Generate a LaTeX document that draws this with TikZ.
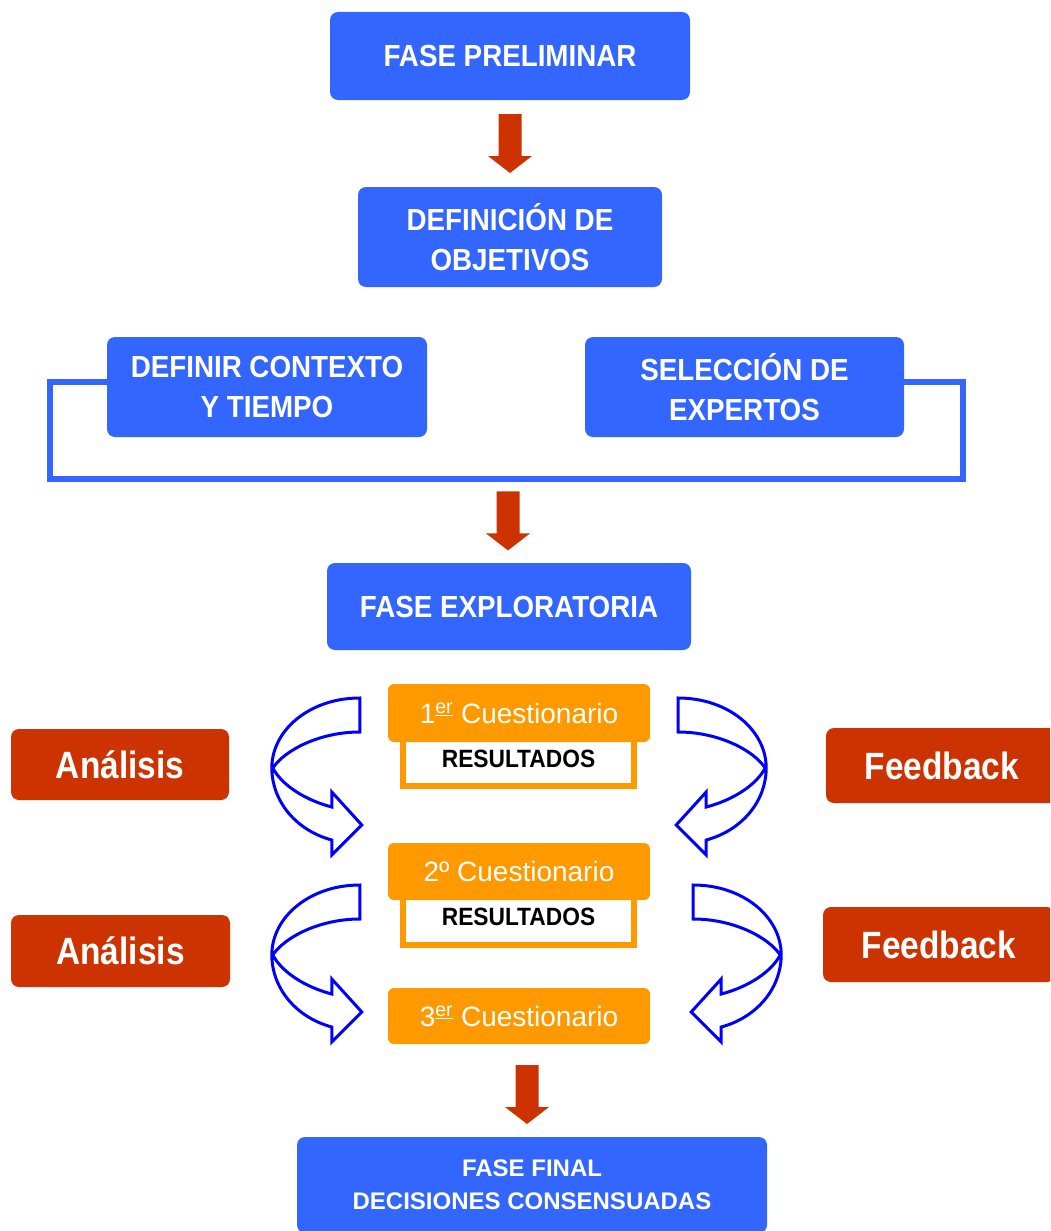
\documentclass[tikz,border=0pt]{standalone}
\usepackage{fontspec}
\setmainfont{Liberation Sans}
\newfontfamily\narrowsans[FakeStretch=0.91]{Liberation Sans}
\newfontfamily\tightsans[FakeStretch=0.88]{Liberation Sans}
\usetikzlibrary{calc}
\definecolor{boxblue}{HTML}{3366FF}
\definecolor{boxred}{HTML}{CC3300}
\definecolor{boxorange}{HTML}{FF9900}
\definecolor{curlblue}{HTML}{0000FF}
\newcommand{\ordsup}[1]{\textsuperscript{\underline{#1}}}

\begin{document}
\begin{tikzpicture}[x=1pt,y=-1pt,
  bluebox/.style={fill=boxblue, rounded corners=8pt, text=white, align=center,
    inner sep=0pt, font=\narrowsans\bfseries\fontsize{30.5}{40}\selectfont},
  finalbox/.style={bluebox, font=\bfseries\fontsize{24}{33}\selectfont},
  redbox/.style={fill=boxred, rounded corners=8pt, text=white, inner sep=0pt,
    text height=27pt, text depth=0pt, font=\tightsans\bfseries\fontsize{38}{44}\selectfont},
  quest/.style={fill=boxorange, rounded corners=6pt, text=white, inner sep=0pt,
    minimum width=262pt, text height=20pt, text depth=0pt,
    font=\fontsize{28}{32}\selectfont},
  result/.style={draw=boxorange, line width=6pt, fill=white, inner sep=0pt,
    minimum width=231pt, text height=18pt, text depth=0pt,
    font=\narrowsans\bfseries\fontsize{25}{28}\selectfont},
  bracketline/.style={draw=boxblue, line width=6pt, line join=miter},
  curlline/.style={draw=curlblue, line width=3pt, fill=white, line join=miter},
  arrowfill/.style={fill=boxred},
  downarrow/.pic={
    \fill[arrowfill] (-11.5,-29.5) -- (11.5,-29.5) -- (11.5,12.5) -- (22,12.5)
      -- (0,29.5) -- (-22,12.5) -- (-11.5,12.5) -- cycle;
  },
  curlarrow/.pic={
    \path[curlline] (0,0) .. controls (-50,0) and (-88,32) .. (-88,70)
      .. controls (-88,102) and (-65,132) .. (-28,142)
      -- (-28,157) -- (2,127) -- (-28,94) -- (-28,109)
      .. controls (-55,102) and (-78,87) .. (-87,70)
      .. controls (-75,52) and (-40,34) .. (0,34) -- cycle;
  }
]
\useasboundingbox (0,0) rectangle (1050,1231);
\clip (0,0) rectangle (1050,1231);

% preliminary phase
\node[bluebox, minimum width=360pt, minimum height=88pt] (pre) at (510,56) {FASE PRELIMINAR};
\node[bluebox, minimum width=304pt, minimum height=100pt] (obj) at (510,237) {DEFINICIÓN DE\\OBJETIVOS};

% context and experts, joined by a frame
\node[bluebox, minimum width=320pt, minimum height=100pt] (ctx) at (267,387) {DEFINIR CONTEXTO\\Y TIEMPO};
\node[bluebox, minimum width=319pt, minimum height=100pt] (sel) at (744.5,387) {SELECCIÓN DE\\EXPERTOS};
\coordinate (bracketbottom) at (507,479);
\draw[bracketline] ([yshift=5pt]ctx.west) -| (50,479) -- (963,479) |- ([yshift=5pt]sel.east);

% exploratory phase
\node[bluebox, minimum width=364pt, minimum height=87pt] (exp) at (509,606.5) {FASE EXPLORATORIA};

% questionnaire rounds
\node[result, minimum height=56pt] (r1) at (518.5,758) {RESULTADOS};
\node[quest, minimum height=58pt] (q1) at (519,713) {1\ordsup{er} Cuestionario};
\node[result, minimum height=57pt] (r2) at (518.5,916.5) {RESULTADOS};
\node[quest, minimum height=57pt] (q2) at (519,871.5) {2º Cuestionario};
\node[quest, minimum height=56pt] (q3) at (519,1016) {3\ordsup{er} Cuestionario};

% analysis and feedback labels
\node[redbox, minimum width=218pt, minimum height=71pt] (an1) at (120,764.5) {Análisis};
\node[redbox, minimum width=232pt, minimum height=75pt] (fb1) at (942,765.5) {Feedback};
\node[redbox, minimum width=219pt, minimum height=72pt] (an2) at (120.5,951) {Análisis};
\node[redbox, minimum width=232pt, minimum height=75pt] (fb2) at (939,944.5) {Feedback};

% final phase
\node[finalbox, minimum width=470pt, minimum height=96pt] (fin) at (532,1185) {FASE FINAL\\DECISIONES CONSENSUADAS};

% phase arrows
\pic at ($(pre.south)!0.5!(obj.north)$) {downarrow};
\pic at ($(bracketbottom)!0.5!(exp.north)$) {downarrow};
\pic at ($(q3.south)!0.5!(fin.north)+(1.5,4)$) {downarrow};

% curled loop arrows
\pic at ([shift={(-28,-15)}]q1.west) {curlarrow};
\pic[xscale=-1] at ([shift={(28,-15)}]q1.east) {curlarrow};
\pic at ([shift={(-28,13.5)}]q2.west) {curlarrow};
\pic[xscale=-1] at ([shift={(43,13.5)}]q2.east) {curlarrow};
\end{tikzpicture}
\end{document}
